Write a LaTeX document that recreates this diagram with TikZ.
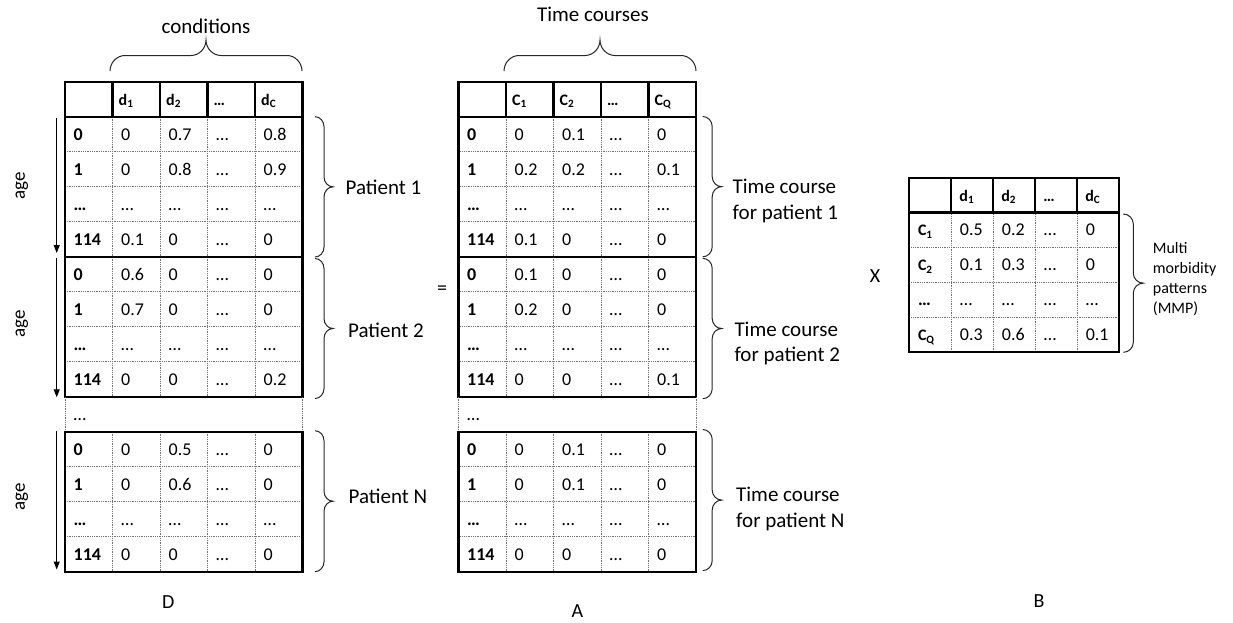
\documentclass[tikz,border=0pt]{standalone}
\usepackage{fontspec}
\setmainfont{Carlito}
\usetikzlibrary{arrows.meta}
\newcommand\hf{\fontsize{16}{19}\selectfont}
\tikzset{
  tblthick/.style={line width=2.3pt, black},
  tbldot/.style={line width=0.7pt, black!55, dash pattern=on 0.9pt off 0.9pt},
  bracestyle/.style={line width=1pt, black!85},
  agearrow/.style={line width=1.2pt, -{Triangle[length=8pt,width=6pt]}},
  bodytxt/.style={inner sep=0pt, anchor=base west, font=\fontsize{18}{21}\selectfont},
  headtxt/.style={inner sep=0pt, anchor=base west, font=\fontsize{16}{19}\selectfont\bfseries},
  lbl/.style={inner sep=0pt, anchor=base west, font=\fontsize{21}{25}\selectfont},
  smlbl/.style={inner sep=0pt, anchor=base west, font=\fontsize{16}{19}\selectfont},
  biglbl/.style={inner sep=0pt, font=\fontsize{20}{24}\selectfont},
  agelbl/.style={inner sep=0pt, rotate=90, font=\fontsize{19}{22}\selectfont},
}
% header: name, x0, y0, cw, rh, entries (columns 2..5), pad
\newcommand\mkheader[7]{%
  \draw[tblthick] (#2,#3) rectangle ({#2+5*#4},{#3+#5});
  \foreach \k in {1,...,4} \draw[tblthick] ({#2+\k*#4},#3) -- ({#2+\k*#4},{#3+#5});
  \foreach \h [count=\cc] in {#6}
    \node[headtxt] (#1-h\cc) at ({#2+\cc*#4+#7},{#3+0.5*#5+6}) {\h};
}
% block: name, x0, ytop, cw, rh, rows
\newcommand\mkblock[6]{%
  \foreach \k in {1,2,3} \draw[tbldot] (#2,{#3+\k*#5}) -- ({#2+5*#4},{#3+\k*#5});
  \foreach \k in {1,...,4} \draw[tbldot] ({#2+\k*#4},#3) -- ({#2+\k*#4},{#3+4*#5});
  \draw[tblthick] (#2,#3) rectangle ({#2+5*#4},{#3+4*#5});
  \foreach \row [count=\rr] in {#6} {
    \foreach \cell [count=\cc] in \row {
      \node[bodytxt] (#1-\rr-\cc) at ({#2+(\cc-1)*#4+8.5},{#3+(\rr-0.5)*#5+5.8}) {\ifnum\cc=1 \bfseries\fi\cell};
    }
  }
}
% vertical brace opening left, tip right: x, ytop, ybot, w
\newcommand\vbr[4]{%
  \pgfmathsetmacro\ym{(#2+#3)/2}
  \draw[bracestyle] (#1,#2) .. controls ({#1+0.275*#4},#2) and ({#1+0.5*#4},{#2+4.5}) .. ({#1+0.5*#4},{#2+10})
    -- ({#1+0.5*#4},{\ym-10}) .. controls ({#1+0.5*#4},{\ym-4.5}) and ({#1+0.725*#4},\ym) .. ({#1+#4},\ym)
    .. controls ({#1+0.725*#4},\ym) and ({#1+0.5*#4},{\ym+4.5}) .. ({#1+0.5*#4},{\ym+10})
    -- ({#1+0.5*#4},{#3-10}) .. controls ({#1+0.5*#4},{#3-4.5}) and ({#1+0.275*#4},#3) .. (#1,#3);
}
% horizontal brace, tip up: x1, x2, yend, ytip
\newcommand\hbr[4]{%
  \pgfmathsetmacro\xm{(#1+#2)/2}
  \pgfmathsetmacro\ys{(#3+#4)/2}
  \pgfmathsetmacro\hh{(#3-#4)/2}
  \draw[bracestyle] (#1,#3) .. controls (#1,{#3-0.55*\hh}) and ({#1+7},\ys) .. ({#1+15},\ys)
    -- ({\xm-15},\ys) .. controls ({\xm-7},\ys) and (\xm,{\ys-0.45*\hh}) .. (\xm,#4)
    .. controls (\xm,{\ys-0.45*\hh}) and ({\xm+7},\ys) .. ({\xm+15},\ys)
    -- ({#2-15},\ys) .. controls ({#2-7},\ys) and (#2,{#3-0.55*\hh}) .. (#2,#3);
}
\begin{document}
\begin{tikzpicture}[x=1pt,y=-1pt]
\useasboundingbox (0,0) rectangle (1233,622);

% ---------------- Table D ----------------
\mkheader{D}{65}{81.7}{47.5}{35}{d\textsubscript{1},d\textsubscript{2},…,d\textsubscript{C}}{6}
\mkblock{D1}{65}{116.7}{47.5}{35}{{0,0,0.7,…,0.8},{1,0,0.8,…,0.9},{…,…,…,…,…},{114,0.1,0,…,0}}
\mkblock{D2}{65}{256.7}{47.5}{35}{{0,0.6,0,…,0},{1,0.7,0,…,0},{…,…,…,…,…},{114,0,0,…,0.2}}
\draw[tbldot] (65,396.7) -- (65,431.7);
\draw[tbldot] (302.5,396.7) -- (302.5,431.7);
\node[bodytxt] (Ddots) at (73.5,420) {…};
\mkblock{DN}{65}{431.7}{47.5}{35}{{0,0,0.5,…,0},{1,0,0.6,…,0},{…,…,…,…,…},{114,0,0,…,0}}

% ---------------- Table A ----------------
\mkheader{A}{458.5}{81.7}{47.5}{35}{C\textsubscript{1},C\textsubscript{2},…,C\textsubscript{Q}}{6}
\mkblock{A1}{458.5}{116.7}{47.5}{35}{{0,0,0.1,…,0},{1,0.2,0.2,…,0.1},{…,…,…,…,…},{114,0.1,0,…,0}}
\mkblock{A2}{458.5}{256.7}{47.5}{35}{{0,0.1,0,…,0},{1,0.2,0,…,0},{…,…,…,…,…},{114,0,0,…,0.1}}
\draw[tbldot] (458.5,396.7) -- (458.5,431.7);
\draw[tbldot] (696,396.7) -- (696,431.7);
\node[bodytxt] (Adots) at (467,420) {…};
\mkblock{AN}{458.5}{431.7}{47.5}{35}{{0,0,0.1,…,0},{1,0,0.1,…,0},{…,…,…,…,…},{114,0,0,…,0}}

% ---------------- Table B ----------------
\mkheader{B}{909.3}{177.7}{41.94}{34.9}{d\textsubscript{1},d\textsubscript{2},…,d\textsubscript{C}}{8}
\mkblock{B1}{909.3}{212.6}{41.94}{34.9}{{{\hf C\textsubscript{1}},0.5,0.2,…,0},{{\hf C\textsubscript{2}},0.1,0.3,…,0},{…,…,…,…,…},{{\hf C\textsubscript{Q}},0.3,0.6,…,0.1}}

% ---------------- braces ----------------
\hbr{110}{302}{71}{40}
\hbr{504}{696}{71}{40}
\vbr{315}{116.7}{257}{18}
\vbr{315}{258.5}{398.5}{18}
\vbr{315}{430.7}{571.7}{18}
\vbr{702.7}{116.5}{256.8}{19}
\vbr{702.7}{258.3}{398.7}{19}
\vbr{702.7}{429.5}{570.6}{19}
\vbr{1123.3}{214}{352.3}{20}

% ---------------- labels ----------------
\node[lbl, anchor=base] (lcond) at (206,33.5) {conditions};
\node[lbl, anchor=base] (ltc) at (593,21) {Time courses};
\node[lbl] (lp1) at (345.5,194) {Patient 1};
\node[lbl] (lp2) at (348,337) {Patient 2};
\node[lbl] (lpN) at (348.5,503.5) {Patient N};
\node[lbl] (lt1a) at (732.5,193.5) {Time course};
\node[lbl] (lt1b) at (732.5,219) {for patient 1};
\node[lbl] (lt2a) at (734.3,336) {Time course};
\node[lbl] (lt2b) at (734.3,361.5) {for patient 2};
\node[lbl] (ltNa) at (736,501) {Time course};
\node[lbl] (ltNb) at (736,527) {for patient N};
\node[smlbl] (mm1) at (1152.7,253) {Multi};
\node[smlbl] (mm2) at (1152.7,273) {morbidity};
\node[smlbl] (mm3) at (1152.7,293) {patterns};
\node[smlbl] (mm4) at (1152.7,313) {(MMP)};
\node[biglbl] (eq) at (442,290) {=};
\node[biglbl] (times) at (875,276) {X};
\node[biglbl] (lD) at (168.3,601.7) {D};
\node[biglbl] (lA) at (577.3,611) {A};
\node[biglbl] (lB) at (1039,601) {B};

% ---------------- age arrows ----------------
\node[agelbl] (age1) at (22,186) {age};
\node[agelbl] (age2) at (22,324) {age};
\node[agelbl] (ageN) at (22,497) {age};
\coordinate (a1s) at (56.7,117.5);
\coordinate (a1e) at (56.7,253);
\coordinate (a2s) at (56.7,257.5);
\coordinate (a2e) at (56.7,397.3);
\coordinate (aNs) at (56.7,431);
\coordinate (aNe) at (56.7,569.5);
\draw[agearrow] (a1s) -- (a1e);
\draw[agearrow] (a2s) -- (a2e);
\draw[agearrow] (aNs) -- (aNe);
\end{tikzpicture}
\end{document}
